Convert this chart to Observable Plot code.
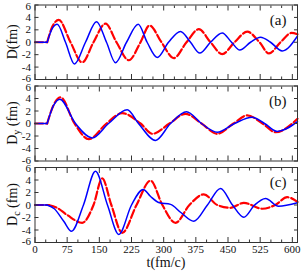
<!DOCTYPE html>
<html><head><meta charset="utf-8">
<script src="https://cdn.jsdelivr.net/npm/d3@7"></script>
<script src="https://cdn.jsdelivr.net/npm/@observablehq/plot@0.6"></script>
<style>
body{margin:0;background:#fff;}
#chart{position:relative;width:303px;height:271px;}
#chart svg{position:absolute;left:0;top:0;}
</style></head><body><div id="chart"></div>
<script>
// ---- data (t in fm/c, values in fm) ----
const xTicksMajor = [0, 75, 150, 225, 300, 375, 450, 525, 600];
const xTicksMinor = [25, 50, 100, 125, 175, 200, 250, 275, 325, 350, 400, 425, 475, 500, 550, 575];
const yTicks = [-6, -4, -2, 0, 2, 4, 6];
const yTicksInner = [-4, -2, 0, 2, 4];
const panelLabels = ["(a)", "(b)", "(c)"];
const ySubs = ["", "y", "c"];

const aBlueT = [0, 28.4, 40, 51.8, 71.1, 92.1, 117.7, 143.4, 166.7, 187.7, 213.4, 240.6, 261.4, 284.9, 311.3, 339.2, 362.6, 384.2, 409.2, 436.5, 458.2, 477.5, 502.5, 525.8, 549.1, 576.4, 612];
const aBlueV = [0, 0, 2.2, 2.9, 0, -3.5, 0, 3.3, 0, -3.3, 0, 2.9, 0, -2.45, 0, 1.75, 0, -1.75, 0, 1.5, 0, -1.26, 0, 0.8, 0, -1.4, 1.0];
const aRedT = [0, 28.4, 41, 55.5, 82.8, 110, 136.4, 164.4, 190, 218.7, 246, 267, 294.9, 323.6, 353.2, 381.9, 409.2, 436.5, 465.2, 494.8, 523.4, 545.6, 572.4, 598, 612];
const aRedV = [0, 0, 2.6, 3.6, 0, -3.25, 0, 3.0, 0, -2.9, 0, 2.7, 0, -2.55, 0, 2.1, 0, -1.9, 0, 1.7, 0, -1.8, 0, 1.5, 1.3];

const bBlueT = [0, 28.4, 43, 57.8, 94.4, 133.4, 171.4, 215, 241.3, 281, 315.9, 353.2, 388.2, 424.8, 465.2, 506.4, 535.1, 564.7, 612];
const bBlueV = [0, 0, 2.85, 3.9, 0, -2.3, 0, 2.2, 0, -2.7, 0, 1.9, 0, -1.4, 0, 1.0, 0, -1.27, 0.3];
const bRedT = [0, 28.4, 43, 59.4, 92.1, 125.4, 166.7, 203.3, 246, 274, 313.6, 350.9, 388.2, 424.8, 462.8, 494.8, 530.5, 560.8, 612];
const bRedV = [0, 0, 2.9, 4.2, 0, -2.5, 0, 1.65, 0, -1.65, 0, 1.55, 0, -1.65, 0, 1.3, 0, -1.4, 0.75];

const cBlueT = [0, 28, 45, 67, 85.1, 113, 141, 169, 195.4, 225, 252.3, 269, 290, 316, 340, 370.3, 402, 432.5, 460.5, 486.8, 512, 537.5, 567.6, 612];
const cBlueV = [0, 0, -0.6, -2.6, -4.2, 0, 5.4, 0, -4.7, 0, 2.5, 1.4, 0.35, 0.1, -1.2, -2.6, 0, 2.65, 0, -1.95, 0, 1.05, -0.2, 0.35];
const cRedT = [0, 32, 50, 75, 110, 136.4, 156.7, 178, 203.3, 236.7, 269.3, 297, 327.6, 360, 393.6, 425, 455.8, 486.8, 529.7, 560, 588, 612];
const cRedV = [0, 0, -0.4, -1.6, -2.85, 0, 4.25, 0, -4.45, 0, 3.9, 0, -2.85, 0, 1.7, 0, -0.45, 0.35, -0.6, 0, 1.25, 0.5];

// ---- layout ----
const W = 303, H = 271;
const panels = [
  {blueT: aBlueT, blueV: aBlueV, redT: aRedT, redV: aRedV, top: 4.5, bottom: 79},
  {blueT: bBlueT, blueV: bBlueV, redT: bRedT, redV: bRedV, top: 85.5, bottom: 160.5},
  {blueT: cBlueT, blueV: cBlueV, redT: cRedT, redV: cRedV, top: 167, bottom: 242}
];
const FONT = "'Liberation Serif', 'Times New Roman', serif";

// split leading flat segment from oscillation so the kink stays sharp
function rows(T, V) {
  const out = [];
  const flat = V[0] === 0 && V[1] === 0;
  T.forEach((t, i) => {
    if (flat && i <= 1) out.push({t, v: V[i], s: 0});
    if (!flat || i >= 1) out.push({t, v: V[i], s: 1});
  });
  return out;
}

const chart = document.getElementById("chart");
const fmt = d => String(d);
panels.forEach((p, k) => {
  const blue = rows(p.blueT, p.blueV);
  const red = rows(p.redT, p.redV);
  const last = k === 2;
  const marks = [
    Plot.line(red, {x: "t", y: "v", z: "s", stroke: "#ffb0b0", strokeWidth: 1, curve: "monotone-x"}),
    Plot.line(red, {x: "t", y: "v", z: "s", stroke: "#ff0000", strokeWidth: 2.2, strokeDasharray: "8,3", curve: "monotone-x"}),
    Plot.line(blue, {x: "t", y: "v", z: "s", stroke: "#0000ff", strokeWidth: 1.5, curve: "monotone-x"}),
    Plot.frame({stroke: "#333", strokeWidth: 1}),
    Plot.axisY(yTicksInner, {anchor: "left", tickSize: 0, tickPadding: 4, label: null, tickFormat: fmt, fill: "#111", fontSize: 11}),
    Plot.axisY([6], {anchor: "left", tickSize: 0, tickPadding: 4, label: null, tickFormat: fmt, fill: "#111", fontSize: 11, dy: 1}),
    Plot.axisY([-6], {anchor: "left", tickSize: 0, tickPadding: 4, label: null, tickFormat: fmt, fill: "#111", fontSize: 11, dy: -1}),
    Plot.axisY(yTicks, {anchor: "left", tickSize: -4, text: null, label: null, stroke: "#333"}),
    Plot.axisY(yTicks, {anchor: "right", tickSize: -4, text: null, label: null, stroke: "#333"}),
    Plot.axisX(xTicksMajor, {anchor: "bottom", tickSize: -5, text: null, label: null, stroke: "#333"}),
    Plot.axisX(xTicksMinor, {anchor: "bottom", tickSize: -2.5, text: null, label: null, stroke: "#333"}),
    Plot.axisX(xTicksMajor, {anchor: "top", tickSize: -5, text: null, label: null, stroke: "#333"}),
    Plot.axisX(xTicksMinor, {anchor: "top", tickSize: -2.5, text: null, label: null, stroke: "#333"}),
    Plot.text([panelLabels[k]], {frameAnchor: "top-right", dx: -11, dy: 9, fontSize: 15, fill: "#111"})
  ];
  if (last) marks.push(Plot.axisX(xTicksMajor, {anchor: "bottom", tickSize: 0, tickPadding: 3, label: null, tickFormat: fmt, fill: "#111", fontSize: 11}));
  const svg = Plot.plot({
    width: W, height: H,
    marginLeft: 34.5, marginRight: 6, marginTop: p.top, marginBottom: H - p.bottom,
    style: {fontFamily: FONT, fontSize: "11px", background: "transparent", color: "#111"},
    x: {domain: [0, 612]},
    y: {domain: [-6, 6]},
    marks
  });
  const s = d3.select(svg);
  const lab = s.append("text")
    .attr("transform", `translate(16.5,${(p.top + p.bottom) / 2}) rotate(-90)`)
    .attr("text-anchor", "middle").attr("font-family", FONT).attr("font-size", 14).attr("fill", "#111");
  lab.append("tspan").text("D");
  if (ySubs[k]) {
    lab.append("tspan").attr("font-size", 10).attr("dy", 3).text(ySubs[k]);
    lab.append("tspan").attr("dy", -3).text(" (fm)");
  } else {
    lab.append("tspan").text("(fm)");
  }
  if (last) {
    s.append("text").attr("x", 166).attr("y", 267).attr("text-anchor", "middle")
      .attr("font-family", FONT).attr("font-size", 14).attr("fill", "#111").text("t(fm/c)");
  }
  chart.appendChild(svg);
});
</script></body></html>
